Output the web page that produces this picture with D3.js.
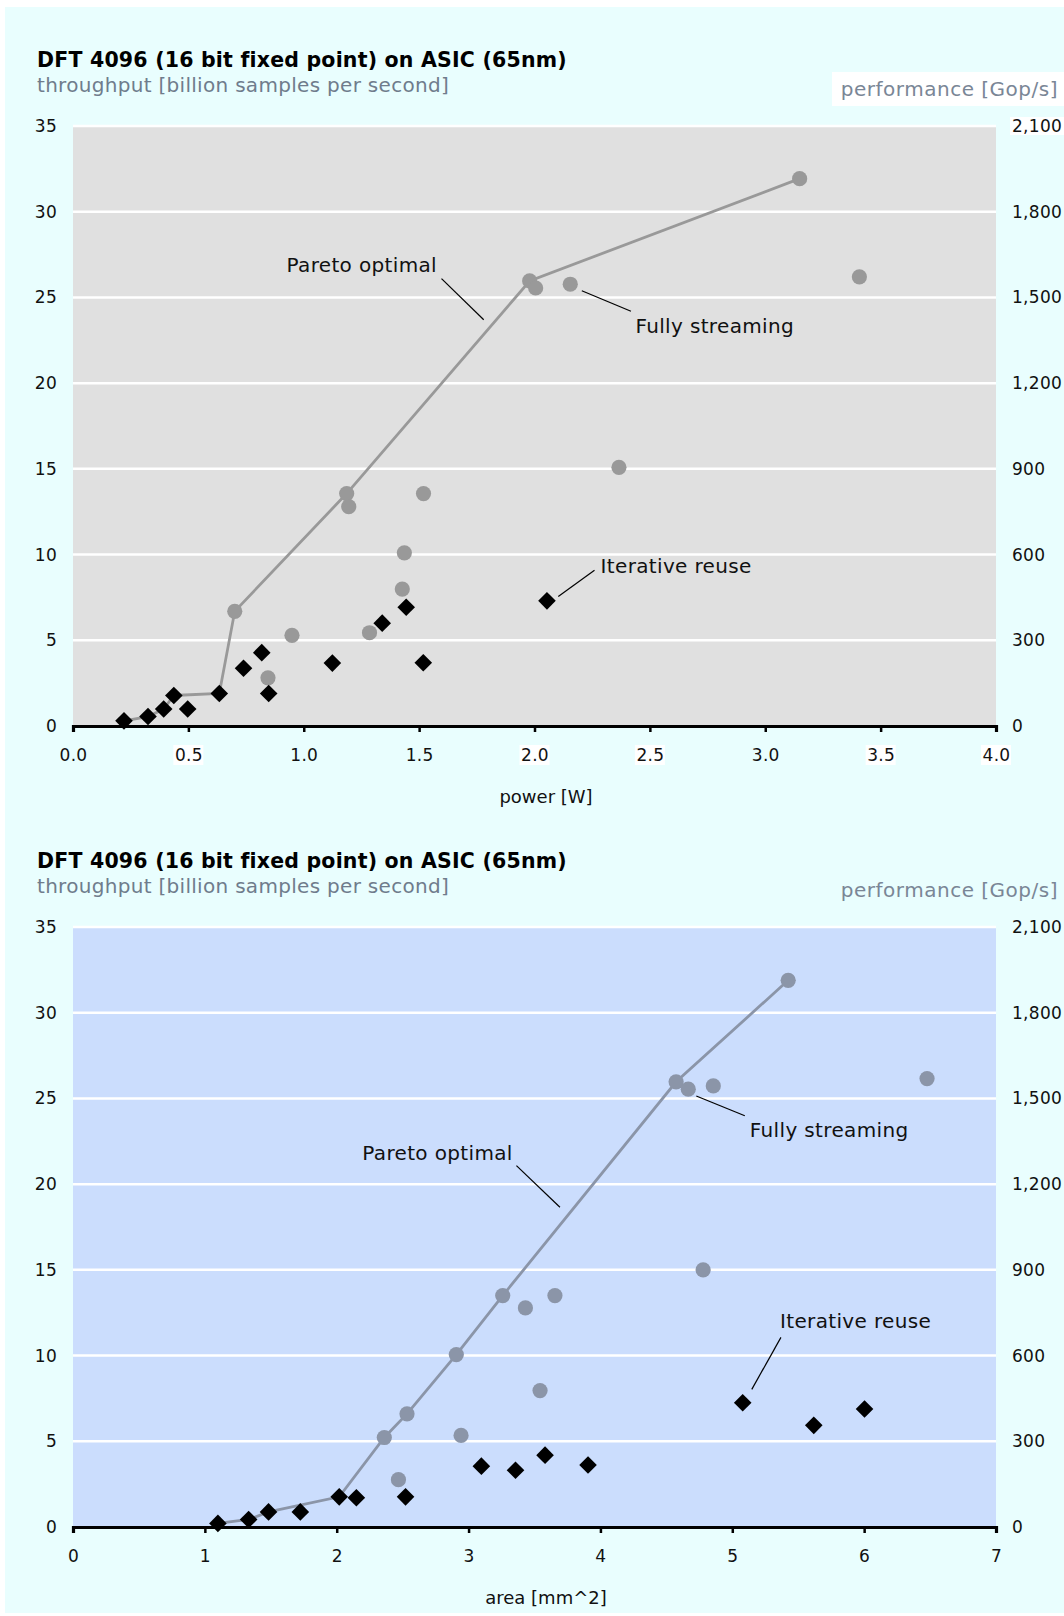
<html>
<script src="https://d3js.org/d3.v7.min.js"></script>
<style>
    body { margin: 0; background: #ffffff; }
    text { font-family: "DejaVu Sans", Verdana, sans-serif; }
</style>
<body>
<svg id="chart"></svg>
<script>
    // ---- data ----
    var yTicks = [0, 5, 10, 15, 20, 25, 30, 35];
    var perfTicks = [0, 300, 600, 900, 1200, 1500, 1800, 2100];
    var powerTicks = [0, 0.5, 1.0, 1.5, 2.0, 2.5, 3.0, 3.5, 4.0];
    var areaTicks = [0, 1, 2, 3, 4, 5, 6, 7];

    // top panel: throughput vs power
    var powerIterX = [0.221, 0.325, 0.393, 0.437, 0.497, 0.634, 0.739, 0.818, 0.848, 1.124, 1.34, 1.444, 1.518, 2.054];
    var powerIterY = [0.30, 0.55, 0.99, 1.78, 0.99, 1.90, 3.37, 4.28, 1.90, 3.67, 6.00, 6.93, 3.69, 7.30];
    var powerStreamX = [0.701, 0.949, 0.845, 1.186, 1.195, 1.285, 1.427, 1.436, 1.519, 1.979, 2.005, 2.155, 2.366, 3.149, 3.408];
    var powerStreamY = [6.69, 5.29, 2.81, 13.56, 12.8, 5.44, 7.99, 10.1, 13.56, 25.96, 25.55, 25.77, 15.09, 31.93, 26.2];
    var powerParetoX = [0.221, 0.325, 0.393, 0.437, 0.634, 0.701, 1.186, 1.979, 3.149];
    var powerParetoY = [0.30, 0.55, 0.99, 1.78, 1.90, 6.69, 13.56, 25.96, 31.93];

    // bottom panel: throughput vs area
    var areaIterX = [1.099, 1.332, 1.483, 1.724, 2.019, 2.149, 2.522, 3.097, 3.356, 3.580, 3.906, 5.079, 5.618, 6.003];
    var areaIterY = [0.21, 0.44, 0.88, 0.88, 1.76, 1.71, 1.76, 3.55, 3.31, 4.19, 3.62, 7.25, 5.93, 6.88];
    var areaStreamX = [2.468, 2.361, 2.533, 2.943, 2.907, 3.259, 3.431, 3.655, 3.542, 4.574, 4.666, 4.856, 4.779, 5.424, 6.477];
    var areaStreamY = [2.76, 5.22, 6.60, 5.34, 10.06, 13.5, 12.78, 13.5, 7.96, 25.97, 25.54, 25.73, 15.0, 31.89, 26.16];
    var areaParetoX = [1.099, 1.332, 1.483, 2.019, 2.361, 2.533, 2.907, 3.259, 4.574, 5.424];
    var areaParetoY = [0.21, 0.44, 0.88, 1.76, 5.22, 6.60, 10.06, 13.5, 25.97, 31.89];

    var title = "DFT 4096 (16 bit fixed point) on ASIC (65nm)";
    var leftLabel = "throughput [billion samples per second]";
    var rightLabel = "performance [Gop/s]";

    var width = 1064, height = 1616;
    var plotLeft = 73, plotRight = 996, plotTop = 126, plotBottom = 726;

    var svg = d3.select("#chart")
        .attr("width", width)
        .attr("height", height);

    // page background
    svg.append("rect")
        .attr("x", 5).attr("y", 7)
        .attr("width", width - 5).attr("height", height - 10)
        .attr("fill", "#e9fefe");

    function zip(xs, ys) {
        return xs.map(function (d, i) { return [d, ys[i]]; });
    }

    function drawPanel(off, opt) {
        var g = svg.append("g").attr("transform", "translate(0," + off + ")");

        var x = d3.scaleLinear().domain([0, opt.xMax]).range([plotLeft, plotRight]);
        var y = d3.scaleLinear().domain([0, 35]).range([plotBottom, plotTop]);
        var y2 = d3.scaleLinear().domain([0, 2100]).range([plotBottom, plotTop]);

        // titles
        g.append("text")
            .attr("x", 37).attr("y", 67)
            .style("font-size", "20.5px").style("font-weight", "bold")
            .style("letter-spacing", "0.2px")
            .attr("fill", "#000")
            .text(title);
        g.append("text")
            .attr("x", 37).attr("y", 92)
            .style("font-size", "20px")
            .style("letter-spacing", "0.3px")
            .attr("fill", "#6f7c8c")
            .text(leftLabel);

        if (opt.boxes) {
            g.append("rect").attr("x", 832).attr("y", 72).attr("width", 232).attr("height", 34).attr("fill", "#fff");
        }
        g.append("text")
            .attr("x", 1058).attr("y", 96)
            .attr("text-anchor", "end")
            .style("font-size", "20px")
            .style("letter-spacing", "0.5px")
            .attr("fill", "#7a8696")
            .text(rightLabel);

        // plot background
        g.append("rect")
            .attr("x", plotLeft).attr("y", plotTop)
            .attr("width", plotRight - plotLeft).attr("height", plotBottom - plotTop)
            .attr("fill", opt.bg);

        // gridlines
        g.append("g").selectAll("line")
            .data(yTicks.filter(function (d) { return d > 0; }))
            .enter().append("line")
            .attr("x1", plotLeft).attr("x2", plotRight)
            .attr("y1", function (d) { return y(d); })
            .attr("y2", function (d) { return y(d); })
            .attr("stroke", "#fff")
            .attr("stroke-width", 2.5);

        // white boxes behind some labels (as in the original)
        if (opt.boxes) {
            g.append("rect").attr("x", 1010).attr("y", 117).attr("width", 54).attr("height", 18).attr("fill", "#fff");
            g.append("g").selectAll("rect")
                .data(opt.boxes)
                .enter().append("rect")
                .attr("x", function (d) { return x(d) - 15; })
                .attr("y", 745).attr("width", 30).attr("height", 20)
                .attr("fill", "#fff");
        }

        // left axis
        var yAxis = g.append("g")
            .attr("transform", "translate(" + plotLeft + ",0)")
            .call(d3.axisLeft(y).tickValues(yTicks).tickSize(0).tickPadding(16));
        yAxis.select(".domain").remove();

        // right axis
        var y2Axis = g.append("g")
            .attr("transform", "translate(" + plotRight + ",0)")
            .call(d3.axisRight(y2).tickValues(perfTicks).tickFormat(d3.format(",")).tickSize(0).tickPadding(16));
        y2Axis.select(".domain").remove();

        // bottom axis
        var xAxis = g.append("g")
            .attr("transform", "translate(0," + plotBottom + ")")
            .call(d3.axisBottom(x).tickValues(opt.xTicks).tickFormat(opt.fmt).tickSizeOuter(0).tickSize(6).tickPadding(17));
        xAxis.select(".domain").attr("stroke", "#000").attr("stroke-width", 3.2);
        xAxis.selectAll(".tick line").attr("stroke", "#000").attr("stroke-width", 2.5);

        g.selectAll(".tick text")
            .style("font-size", "17px")
            .style("letter-spacing", "0.3px")
            .style("font-family", "'DejaVu Sans', Verdana, sans-serif")
            .attr("fill", "#111");

        g.append("text")
            .attr("x", 546).attr("y", 803)
            .attr("text-anchor", "middle")
            .style("font-size", "18px")
            .attr("fill", "#111")
            .text(opt.xLabel);

        // pareto line
        g.append("path")
            .datum(zip(opt.paretoX, opt.paretoY))
            .attr("fill", "none")
            .attr("stroke", opt.grey)
            .attr("stroke-width", 2.8)
            .attr("d", d3.line()
                .x(function (d) { return x(d[0]); })
                .y(function (d) { return y(d[1]); }));

        // fully streaming
        g.append("g").selectAll("circle")
            .data(zip(opt.streamX, opt.streamY))
            .enter().append("circle")
            .attr("cx", function (d) { return x(d[0]); })
            .attr("cy", function (d) { return y(d[1]); })
            .attr("r", 7.6)
            .attr("fill", opt.grey);

        // iterative reuse
        g.append("g").selectAll("path")
            .data(zip(opt.iterX, opt.iterY))
            .enter().append("path")
            .attr("transform", function (d) { return "translate(" + x(d[0]) + "," + y(d[1]) + ")"; })
            .attr("d", "M0,-8.8L8.8,0L0,8.8L-8.8,0Z")
            .attr("fill", "#000");

        // annotations
        opt.notes.forEach(function (n) {
            g.append("line")
                .attr("x1", x(n.lx1)).attr("y1", y(n.ly1))
                .attr("x2", x(n.lx2)).attr("y2", y(n.ly2))
                .attr("stroke", "#000").attr("stroke-width", 1.2);
            g.append("text")
                .attr("x", x(n.tx) - 2).attr("y", y(n.ty))
                .attr("dy", "0.36em")
                .style("font-size", "20px")
                .style("letter-spacing", "0.35px")
                .attr("fill", "#111")
                .text(n.label);
        });
    }

    drawPanel(0, {
        xMax: 4, xTicks: powerTicks, fmt: d3.format(".1f"), xLabel: "power [W]",
        bg: "#e0e0e0", grey: "#999999",
        iterX: powerIterX, iterY: powerIterY,
        streamX: powerStreamX, streamY: powerStreamY,
        paretoX: powerParetoX, paretoY: powerParetoY,
        boxes: [0.5, 2.0, 2.5, 3.5, 4.0],
        notes: [
            { label: "Pareto optimal", tx: 0.934, ty: 26.89, lx1: 1.597, ly1: 26.1, lx2: 1.780, ly2: 23.70 },
            { label: "Fully streaming", tx: 2.446, ty: 23.33, lx1: 2.205, ly1: 25.39, lx2: 2.418, ly2: 24.19 },
            { label: "Iterative reuse", tx: 2.295, ty: 9.32, lx1: 2.260, ly1: 9.09, lx2: 2.103, ly2: 7.55 }
        ]
    });

    drawPanel(801, {
        xMax: 7, xTicks: areaTicks, fmt: d3.format("d"), xLabel: "area [mm^2]",
        bg: "#cbddfd", grey: "#8b95a8",
        iterX: areaIterX, iterY: areaIterY,
        streamX: areaStreamX, streamY: areaStreamY,
        paretoX: areaParetoX, paretoY: areaParetoY,
        boxes: null,
        notes: [
            { label: "Pareto optimal", tx: 2.209, ty: 21.85, lx1: 3.363, ly1: 21.08, lx2: 3.693, ly2: 18.65 },
            { label: "Fully streaming", tx: 5.148, ty: 23.16, lx1: 4.727, ly1: 25.14, lx2: 5.095, ly2: 23.99 },
            { label: "Iterative reuse", tx: 5.377, ty: 12.02, lx1: 5.369, ly1: 11.06, lx2: 5.148, ly2: 8.03 }
        ]
    });
</script>
</body>
</html>
